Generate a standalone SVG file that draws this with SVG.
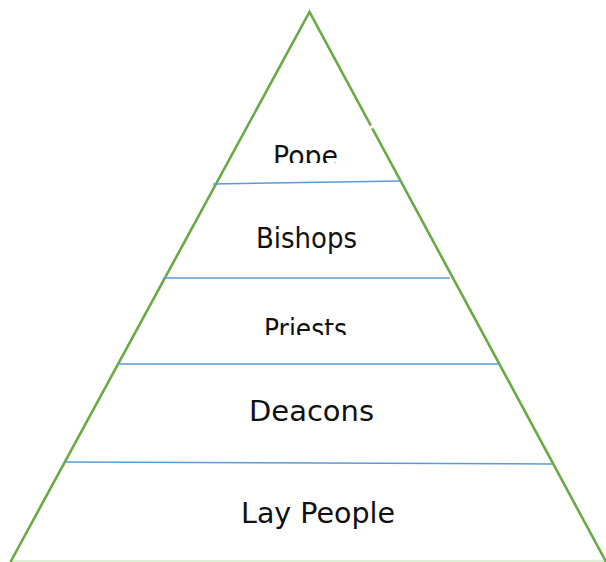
<svg xmlns="http://www.w3.org/2000/svg" width="606" height="562" viewBox="0 0 606 562">
  <style>
    .side { stroke: #6AAA44; stroke-width: 2.6; fill: none; stroke-linecap: round; }
    .base { stroke: #D6EACB; stroke-width: 1.5; }
    .div { stroke: #5B9BD5; stroke-width: 1.5; }
    .lbl { font-family: "DejaVu Sans", "Liberation Sans", sans-serif; font-size: 29px; fill: #111; }
  </style>
  <defs>
    <clipPath id="clipPope"><rect x="200" y="130" width="200" height="33"/></clipPath>
    <clipPath id="clipPriests"><rect x="200" y="300" width="200" height="35"/></clipPath>
  </defs>
  <rect width="606" height="562" fill="#fff"/>
  <g id="pyramid">
    <line class="base" x1="11" y1="561" x2="606" y2="561"/>
    <polyline class="side" points="11,561 309.5,12 605.6,561"/>
    <rect x="370" y="125.5" width="3" height="3" fill="#fff"/>
  </g>
  <g id="dividers">
    <line class="div" x1="213" y1="184" x2="401" y2="181"/>
    <line class="div" x1="163" y1="278" x2="450" y2="278"/>
    <line class="div" x1="118" y1="364" x2="500" y2="364"/>
    <line class="div" x1="65" y1="462" x2="552" y2="464"/>
  </g>
  <g id="pope">
    <text class="lbl" x="273" y="166" textLength="65" lengthAdjust="spacingAndGlyphs" clip-path="url(#clipPope)">Pope</text>
  </g>
  <g id="bishops">
    <text class="lbl" x="256" y="248" textLength="101" lengthAdjust="spacingAndGlyphs">Bishops</text>
  </g>
  <g id="priests">
    <text class="lbl" x="264" y="338.5" textLength="83" lengthAdjust="spacingAndGlyphs" clip-path="url(#clipPriests)">Priests</text>
  </g>
  <g id="deacons">
    <text class="lbl" x="249" y="421" textLength="125" lengthAdjust="spacingAndGlyphs">Deacons</text>
  </g>
  <g id="laypeople">
    <text class="lbl" x="241" y="523" textLength="154" lengthAdjust="spacingAndGlyphs">Lay People</text>
  </g>
</svg>
